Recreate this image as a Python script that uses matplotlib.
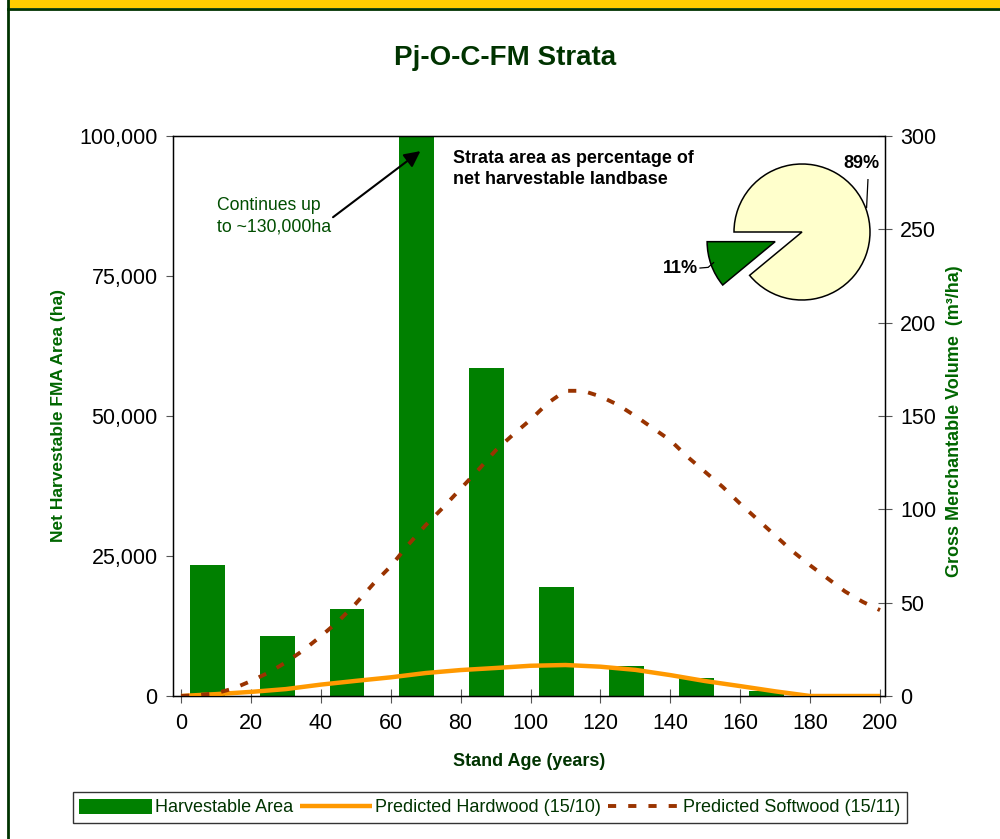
import matplotlib
matplotlib.use('Agg')
import matplotlib.pyplot as plt
from matplotlib.lines import Line2D
from matplotlib.patches import Rectangle

plt.rcParams['font.family'] = ['Liberation Sans', 'DejaVu Sans']

# harvestable area by 20-year age class (ha), bar positions as drawn
bar_x = [7.5, 27.5, 47.5, 67.5, 87.5, 107.5, 127.5, 147.5, 167.5]
area = [23400, 10700, 15500, 130000, 58600, 19500, 5400, 3200, 900]

# predicted hardwood volume (m3/ha)
hw_age = [0, 10, 20, 30, 40, 50, 60, 70, 80, 90, 100,
          110, 120, 130, 140, 150, 160, 170, 180, 190, 200]
hw_vol = [0, 1.0, 2.2, 3.7, 6.1, 8.1, 10.0, 12.3, 13.9, 15.0, 16.2,
          16.6, 15.7, 14.0, 11.2, 8.0, 5.3, 2.5, 0, 0, 0]

# predicted softwood volume (m3/ha)
sw_age = [0, 5, 10, 15, 20, 25, 30, 35, 40, 45, 50, 55, 60, 65, 70, 75, 80,
          85, 90, 95, 100, 105, 110, 115, 120, 125, 130, 135, 140, 145, 150,
          155, 160, 165, 170, 175, 180, 185, 190, 195, 200]
sw_vol = [0, 0.5, 1.5, 4, 8, 12.5, 18, 24.5, 32, 40, 49.5, 60, 69.5, 81, 91.5,
          101, 111, 121, 131.5, 140, 148, 157, 163.5, 163.5, 160.5, 156, 150,
          143.5, 137, 128, 120, 112, 103, 94.5, 86, 77.5, 70, 63, 56, 50.5,
          46]

pie_labels = ['11%', '89%']
pie_share = [11, 89]

x_ticks = list(range(0, 201, 20))
left_ticks = [0, 25000, 50000, 75000, 100000]
right_ticks = [0, 50, 100, 150, 200, 250, 300]

BAR_GREEN = '#008000'
DARK_GREEN = '#003300'
MID_GREEN = '#006600'
ORANGE = '#FF9900'
RUST = '#993300'

fig = plt.figure(figsize=(10, 8.39), dpi=100)

# page frame: yellow band on top, dark green rules
fig.add_artist(Rectangle((0.009, 1 - 8 / 839), 0.991, 8 / 839,
                         transform=fig.transFigure, color='#FFCC00', lw=0))
fig.add_artist(Line2D([0.008, 1], [1 - 8.5 / 839] * 2,
                      transform=fig.transFigure, color=DARK_GREEN, lw=2))
fig.add_artist(Line2D([0.008, 0.008], [0, 1],
                      transform=fig.transFigure, color=DARK_GREEN, lw=2))

ax = fig.add_axes([0.173, 143 / 839, 0.712, 560 / 839])
ax.bar(bar_x, area, width=10, color=BAR_GREEN, label='Harvestable Area')
ax.set_xlim(-2.29, 201.43)
ax.set_ylim(0, 100000)
ax.set_xticks(x_ticks)
ax.set_yticks(left_ticks)
ax.set_yticklabels([f'{v:,}' for v in left_ticks])
ax.tick_params(axis='x', direction='inout', length=10, labelsize=15.5,
               pad=7, color='#555555')
ax.tick_params(axis='y', direction='out', length=5, labelsize=15.5, pad=6,
               color='#555555')
for s in ax.spines.values():
    s.set_linewidth(1)
    s.set_color('black')

ax.set_xlabel('Stand Age (years)', fontsize=13, fontweight='bold',
              color=DARK_GREEN, labelpad=14)
ax.set_ylabel('Net Harvestable FMA Area (ha)', fontsize=12.5,
              fontweight='bold', color=MID_GREEN)
ax.yaxis.set_label_coords(-0.150, 0.5)

ax2 = ax.twinx()
ax2.plot(hw_age, hw_vol, color=ORANGE, lw=3.2, solid_capstyle='butt',
         label='Predicted Hardwood (15/10)')
ax2.plot(sw_age, sw_vol, color=RUST, lw=2.8, dashes=(2.1, 3.1),
         label='Predicted Softwood (15/11)')
ax2.set_ylim(0, 300)
ax2.set_yticks(right_ticks)
ax2.tick_params(axis='y', direction='inout', length=10, labelsize=15.5,
                pad=6, color='#555555')
ax2.set_ylabel('Gross Merchantable Volume  (m\u00b3/ha)', fontsize=13,
               fontweight='bold', color=MID_GREEN)
ax2.yaxis.set_label_coords(1.086, 0.49)

fig.suptitle('Pj-O-C-FM Strata', x=0.505, y=1 - 58 / 839, va='center',
             fontsize=20, fontweight='bold', color=DARK_GREEN)

# note on the tall bar
ax.text(10.3, 85700, 'Continues up\nto ~130,000ha', fontsize=12.7,
        color='#004d00', ha='left', va='center', linespacing=1.3)
ax.annotate('', xy=(68.5, 97300), xytext=(43.5, 85500),
            arrowprops=dict(arrowstyle='-|>', color='black', lw=1.5,
                            mutation_scale=24, shrinkA=0, shrinkB=0))

ax.text(77.8, 94100, 'Strata area as percentage of\nnet harvestable landbase',
        fontsize=12.9, fontweight='bold', color='black', ha='left',
        va='center', linespacing=1.35)

# inset pie
r_px = 68
pax = fig.add_axes([(802 - 100) / 1000, 1 - (232 + 100) / 839,
                    200 / 1000, 200 / 839])
pax.pie(pie_share, colors=[BAR_GREEN, '#FFFFCC'], startangle=180,
        counterclock=True, explode=[0.42, 0],
        wedgeprops=dict(edgecolor='black', linewidth=1.1))
lim = 100 / r_px
pax.set_xlim(-lim, lim)
pax.set_ylim(-lim, lim)
pax.set_aspect('auto')
pax.axis('off')
pax.text(-1.79, -0.53, pie_labels[0], fontsize=13, fontweight='bold',
         ha='center', va='center')
pax.text(0.88, 1.01, pie_labels[1], fontsize=13, fontweight='bold',
         ha='center', va='center')
pax.plot([0.97, 0.95], [0.77, 0.36], color='black', lw=0.9, clip_on=False)
pax.plot([-1.5, -1.38, -1.3], [-0.53, -0.52, -0.45], color='black', lw=0.9,
         clip_on=False)

handles = ax.get_legend_handles_labels()[0] + ax2.get_legend_handles_labels()[0]
labels = ['Harvestable Area', 'Predicted Hardwood (15/10)',
          'Predicted Softwood (15/11)']
leg = fig.legend(handles, labels, loc='center', ncol=3,
                 bbox_to_anchor=(0.49, 1 - 807.5 / 839), fontsize=13,
                 frameon=True, fancybox=False, edgecolor='black',
                 handlelength=4.0, handletextpad=0.2, columnspacing=0.35,
                 borderpad=0.35, borderaxespad=0, handleheight=0.9)
leg.get_frame().set_linewidth(1)
for t in leg.get_texts():
    t.set_color(DARK_GREEN)

fig.savefig('out.png', dpi=100)
